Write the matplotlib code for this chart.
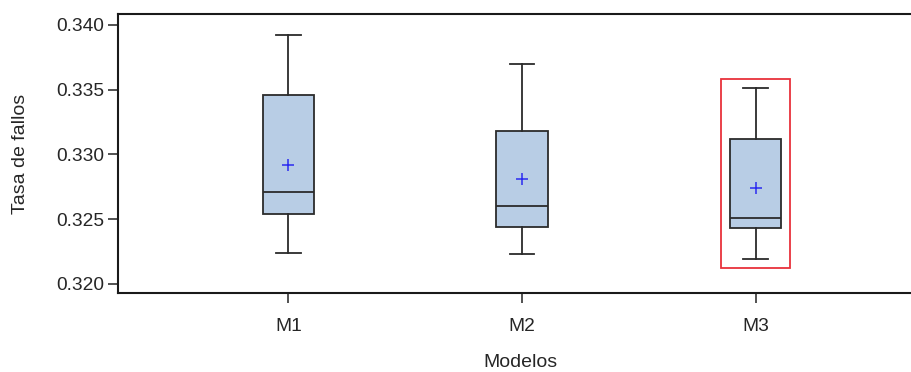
import matplotlib
matplotlib.use('Agg')
import matplotlib.pyplot as plt
from matplotlib.patches import Rectangle

# data
models = ['M1', 'M2', 'M3']
whis_hi = [0.3392, 0.3370, 0.3351]
q3 = [0.3346, 0.3318, 0.3312]
means = [0.3292, 0.3281, 0.3274]
medians = [0.3271, 0.3260, 0.3251]
q1 = [0.3254, 0.3244, 0.3243]
whis_lo = [0.3224, 0.3223, 0.3219]
yticks = [0.320, 0.325, 0.330, 0.335, 0.340]
highlight = 2  # M3 is framed in red

plt.rcParams['font.family'] = ['Liberation Sans', 'DejaVu Sans']
text_col = '#262626'

fig = plt.figure(figsize=(9.12, 3.72), dpi=100)
ax = fig.add_axes([0.1294, 0.2124, 0.886, 0.7487])

stats = []
for i in range(len(models)):
    stats.append({'label': models[i], 'whislo': whis_lo[i], 'q1': q1[i],
                  'med': medians[i], 'q3': q3[i], 'whishi': whis_hi[i],
                  'mean': means[i], 'fliers': []})

pos = list(range(1, len(models) + 1))
ax.bxp(stats, positions=pos, widths=0.22, showmeans=True, patch_artist=True,
       boxprops=dict(facecolor='#b8cde5', edgecolor='#2b2b2b', linewidth=1.3),
       medianprops=dict(color='#2b2b2b', linewidth=1.3),
       whiskerprops=dict(color='#2b2b2b', linewidth=1.3),
       capprops=dict(color='#2b2b2b', linewidth=1.3),
       capwidths=0.105,
       meanprops=dict(marker='+', markeredgecolor='#2a2af0', markersize=8,
                      markeredgewidth=1.1))

# red frame around the highlighted model
x0 = pos[highlight] - 0.148
y0 = whis_lo[highlight] - 0.0007
ax.add_patch(Rectangle((x0, y0), 0.296, whis_hi[highlight] + 0.0007 - y0,
                       fill=False, edgecolor='#e8323c', linewidth=1.3, zorder=5))

ax.set_xlim(0.27, 3.73)
ax.set_ylim(0.3193, 0.34081)
ax.set_yticks(yticks)
ax.set_yticklabels(['%.3f' % v for v in yticks])
ax.set_xticks(pos)
ax.set_xticklabels(models)
ax.tick_params(axis='both', direction='out', length=7, width=1.2,
               colors='#333333', labelcolor=text_col, labelsize=13.8)
ax.tick_params(axis='x', pad=11)
ax.tick_params(axis='y', pad=3)
for s in ax.spines.values():
    s.set_linewidth(1.5)
    s.set_color('#1a1a1a')

fig.text(0.022, 0.585, 'Tasa de fallos', rotation=90, ha='center', va='center',
         fontsize=14, color=text_col)
fig.text(0.571, 0.026, 'Modelos', ha='center', va='center', fontsize=14,
         color=text_col)

fig.savefig('out.png', dpi=100)
